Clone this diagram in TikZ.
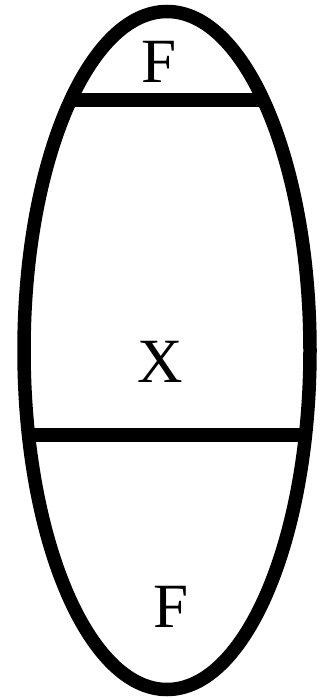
\documentclass[tikz,border=0pt]{standalone}
\usepackage{fontspec}
\setmainfont{Liberation Serif}

\begin{document}
\begin{tikzpicture}[
  x=1pt, y=-1pt,
  every node/.style={font=\fontsize{63}{63}\selectfont, inner sep=0pt, anchor=base},
  shell/.style={draw, line width=13.5pt},
  cut/.style={draw, line width=13.5pt}
]
\useasboundingbox (0,0) rectangle (323,698);

% Outline
\path[shell] (167,350.5) ellipse [x radius=143, y radius=339];

% Chords
\coordinate (TL) at (70.7,100);
\coordinate (TR) at (263.3,100);
\coordinate (BL) at (28.5,435);
\coordinate (BR) at (305.5,435);
\path[cut] (TL) -- (TR);
\path[cut] (BL) -- (BR);

% Labels
\node (Ftop) at (159,83) {F};
\node (Xmid) at (160,382) {X};
\node (Fbot) at (171,627) {F};

\end{tikzpicture}
\end{document}
